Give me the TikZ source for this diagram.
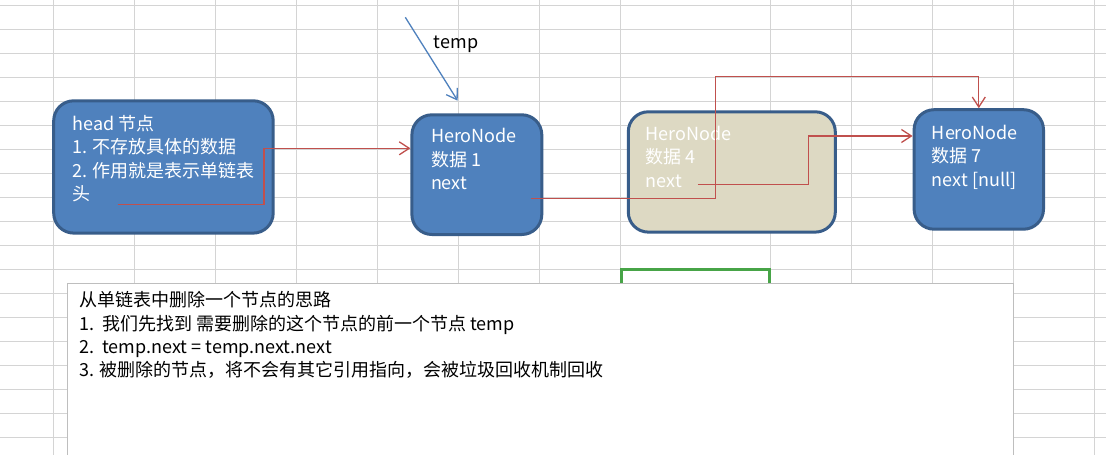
\documentclass[tikz,border=0pt]{standalone}
\usepackage{fontspec}
\setmainfont{Noto Sans CJK SC}
\usepackage{tikz}
\usetikzlibrary{arrows.meta}
\definecolor{xgrid}{HTML}{D4D4D4}
\definecolor{xblue}{HTML}{4F81BD}
\definecolor{xbluedark}{HTML}{385D8A}
\definecolor{xtan}{HTML}{DDD9C3}
\definecolor{xred}{HTML}{C0504D}
\definecolor{xgreen}{HTML}{47A447}
\definecolor{xframe}{HTML}{BEBEBE}
\tikzset{
  herobox/.style={rectangle, rounded corners=20pt, draw=xbluedark, line width=3pt, fill=xblue, inner sep=0pt},
  herotext/.style={font=\fontsize{18}{23.5}\selectfont, text=white, align=left, anchor=base west, inner sep=0pt},
  nextlink/.style={xred, line width=1.3pt, -{Straight Barb[length=10pt, width=13pt]}}
}
\begin{document}
\begin{tikzpicture}[x=1pt, y=-1pt]
\useasboundingbox (0,0) rectangle (1106,455);
\fill[white] (0,0) rectangle (1106,455);
\foreach \gx in {53.3,134.7,215.3,296.3,377.7,458.7,539.7,620.3,770.7,851.5,932.3,1013.3,1094.7}
  \draw[xgrid, line width=1pt] (\gx,0) -- (\gx,455);
\foreach \gy in {0,...,18}
  \draw[xgrid, line width=1pt] (0,5.3+24*\gy) -- (1106,5.3+24*\gy);
\draw[xgreen, line width=2.6pt] (621.4,300) -- (621.4,269.6) -- (769.6,269.6) -- (769.6,300);
\node[draw=xframe, fill=white, line width=1pt, inner sep=0pt, anchor=north west,
  minimum width=946pt, minimum height=200pt] (note) at (67.2,283.3) {};
\node[font=\fontsize{18}{23.4}\selectfont, align=left, anchor=base west, inner sep=0pt] (notetext)
  at (79,376.8) {从单链表中删除一个节点的思路\\1.~~我们先找到 需要删除的这个节点的前一个节点 temp\\2.~~temp.next = temp.next.next\\3. 被删除的节点，将不会有其它引用指向，会被垃圾回收机制回收};
\node[herobox, minimum width=219.5pt, minimum height=132.3pt] (head) at (163.45,166.95) {};
\node[herotext] (headtext) at (72.2,200.5) {head 节点\\1. 不存放具体的数据\\2. 作用就是表示单链表\\头};
\node[herobox, minimum width=129.9pt, minimum height=119.7pt] (hero1) at (476.85,174.65) {};
\node[herotext] (hero1text) at (430.8,189.6) {HeroNode\\数据 1\\next};
\node[herobox, fill=xtan, minimum width=207pt, minimum height=120.3pt] (hero4) at (731.8,171.95) {};
\node[herotext] (hero4text) at (645.6,187) {HeroNode\\数据 4\\next};
\node[herobox, minimum width=129.4pt, minimum height=119.5pt] (hero7) at (978.8,169.45) {};
\node[herotext] (hero7text) at (931.7,186) {HeroNode\\数据 7\\next [null]};
\coordinate (headnext) at (117.6,204.6);
\coordinate (hero1next) at (530.8,198.6);
\coordinate (hero4next) at (697.9,184.3);
\draw[nextlink] (headnext) -| (264,170) |- (hero1.west |- 0,148.3);
\draw[nextlink] (hero1next) -| (715.5,76.6) -| (hero7.north);
\draw[nextlink] (hero4next) -| (808.3,160) |- (hero7.west |- 0,136);
\coordinate (tempfrom) at (405.3,17.3);
\coordinate (tempto) at (457.7,100.7);
\draw[xblue, line width=1.3pt, -{Straight Barb[length=10pt, width=13pt]}] (tempfrom) -- (tempto);
\node[font=\fontsize{18}{22}\selectfont] (templabel) at (456,44) {temp};
\end{tikzpicture}
\end{document}
